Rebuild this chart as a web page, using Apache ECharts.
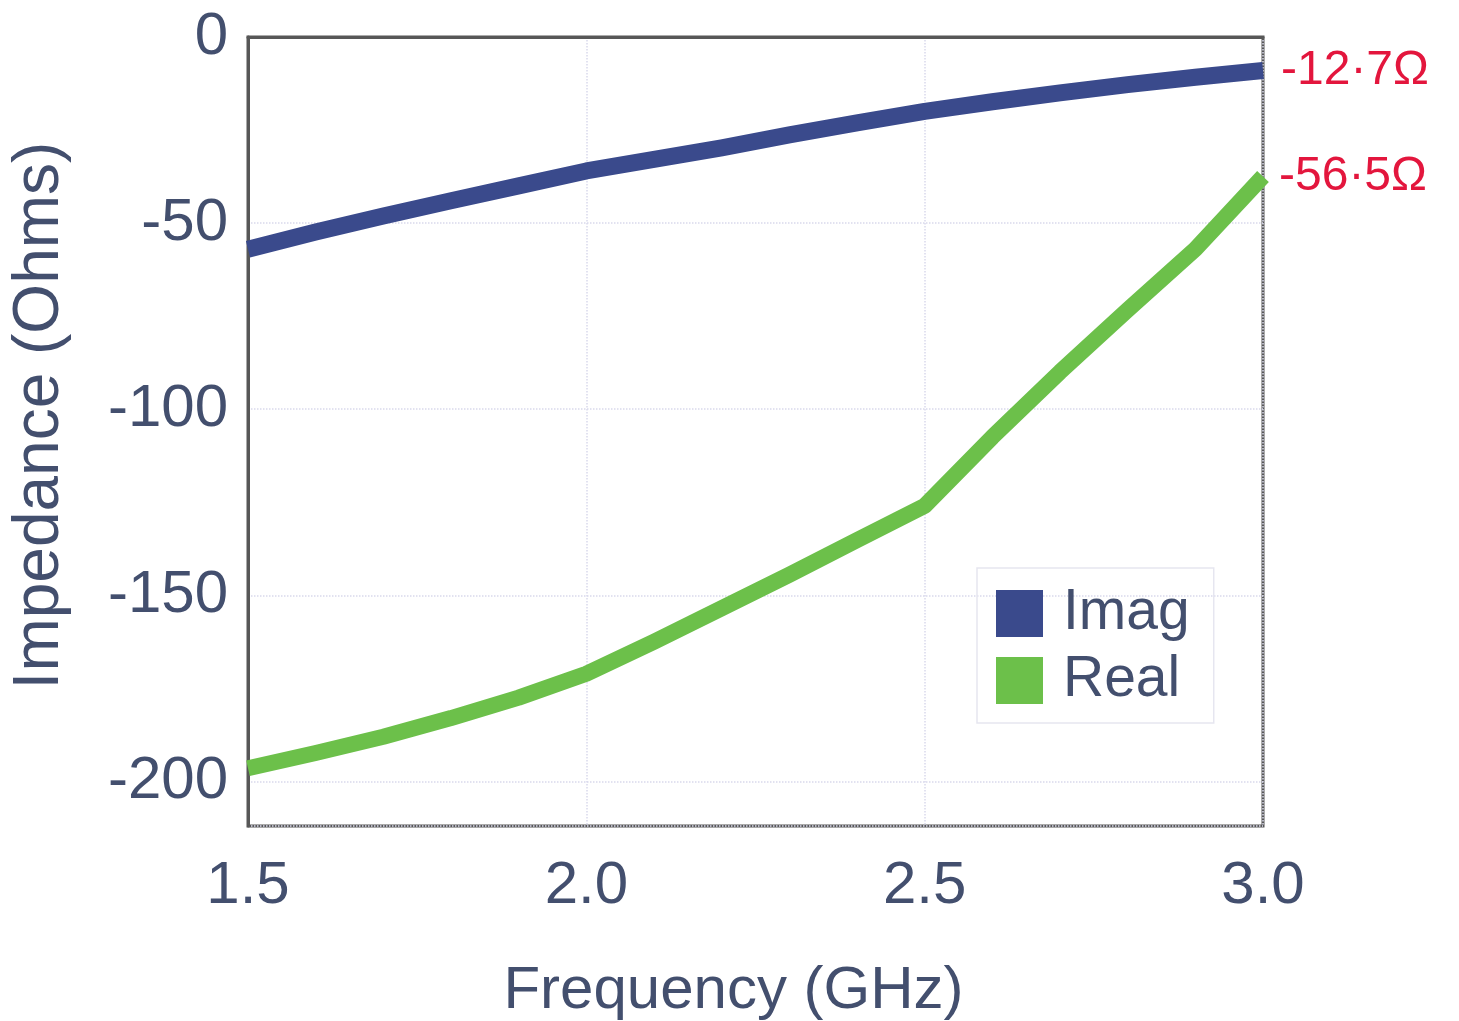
<!DOCTYPE html>
<html>
<head>
<meta charset="utf-8">
<script src="https://cdn.jsdelivr.net/npm/echarts@6/dist/echarts.min.js"></script>
<style>
html,body{margin:0;padding:0;background:#fff;}
#chart{width:1459px;height:1021px;}
</style>
</head>
<body>
<div id="chart"></div>
<script>
// Data
const frequencies = [1.5,1.6,1.7,1.8,1.9,2.0,2.1,2.2,2.3,2.4,2.5,2.6,2.7,2.8,2.9,3.0];
const imagValues = [-57.0,-52.4,-48.1,-44.0,-40.0,-36.0,-32.9,-29.8,-26.3,-23.1,-20.0,-17.4,-15.0,-12.8,-10.8,-9.0];
const realValues = [-196.5,-192.4,-188.0,-183.0,-177.5,-171.1,-162.5,-153.5,-144.5,-135.2,-126.0,-107.5,-90.0,-73.3,-57.0,-37.5];
const seriesNames = ['Imag','Real'];
const annotations = ['-12·7Ω','-56·5Ω'];
const xTicks = [1.5,2.0,2.5,3.0];
const yTicks = [0,-50,-100,-150,-200];

const textColor = '#434f6e';
const font = 'Liberation Sans, Arial, Helvetica, sans-serif';

const chart = echarts.init(document.getElementById('chart'), null, {renderer:'canvas'});
function pairs(vals){ return frequencies.map((f,i)=>[f,vals[i]]); }

chart.setOption({
  backgroundColor:'#ffffff',
  animation:false,
  grid:{left:248,top:37,right:196,bottom:195,containLabel:false,outerBoundsMode:'none',
        show:true,borderColor:'#575757',borderWidth:3,backgroundColor:'transparent'},
  legend:{
    orient:'vertical', left:977, top:568,
    padding:[17,24,14,19],
    itemWidth:47, itemHeight:47, itemGap:10,
    icon:'rect',
    borderColor:'#e6e6f0', borderWidth:1.5,
    textStyle:{fontSize:57, color:textColor, fontFamily:font, padding:[0,0,0,15]},
    data:seriesNames
  },
  xAxis:{
    type:'value', min:1.5, max:3.0, interval:0.5,
    name:'Frequency (GHz)', nameLocation:'middle', nameGap:135,
    nameTextStyle:{fontSize:60, color:textColor, fontFamily:font, padding:[0,44,0,0]},
    axisLine:{show:true,lineStyle:{color:'#575757',width:3}},
    axisTick:{show:false},
    axisLabel:{fontSize:60, color:textColor, fontFamily:font, margin:30,
      formatter:v=> xTicks.some(t=>Math.abs(t-v)<1e-9) ? v.toFixed(1) : ''},
    splitLine:{show:true,lineStyle:{color:'#d9d9ec',width:1.5,type:'dotted'}}
  },
  yAxis:{
    type:'value', min:-212, max:0, splitNumber:4,
    name:'Impedance (Ohms)', nameLocation:'middle', nameGap:176,
    nameTextStyle:{fontSize:64, color:textColor, fontFamily:font, padding:[0,0,0,32]},
    axisLine:{show:true,lineStyle:{color:'#575757',width:3}},
    axisTick:{show:false},
    axisLabel:{fontSize:60, color:textColor, fontFamily:font, margin:20,
      formatter:v=> yTicks.indexOf(v)>=0 ? String(v) : ''},
    splitLine:{show:true,lineStyle:{color:'#d9d9ec',width:1.5,type:'dotted'}}
  },
  series:[
    {name:seriesNames[0], type:'line', data:pairs(imagValues), showSymbol:false, symbol:'none',
     itemStyle:{color:'#3a4a8c'}, lineStyle:{color:'#3a4a8c',width:17, cap:'butt', join:'round'},
     endLabel:{show:true, formatter:()=>annotations[0], color:'#e3163d', fontSize:48, fontFamily:font, distance:18}},
    {name:seriesNames[1], type:'line', data:pairs(realValues), showSymbol:false, symbol:'none',
     itemStyle:{color:'#6cc04a'}, lineStyle:{color:'#6cc04a',width:16, cap:'butt', join:'round'},
     endLabel:{show:true, formatter:()=>annotations[1], color:'#e3163d', fontSize:48, fontFamily:font, distance:16}}
  ]
});
</script>
</body>
</html>
